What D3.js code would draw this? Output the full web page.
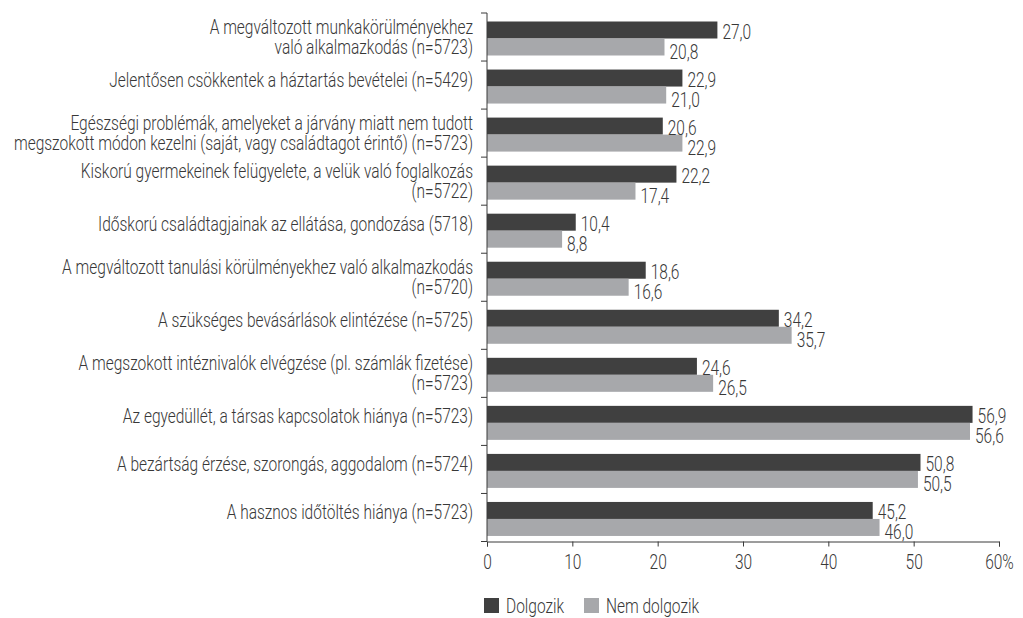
<!DOCTYPE html>
<html>
<head>
<meta charset="utf-8">
<script src="https://cdn.jsdelivr.net/npm/d3@7"></script>
<style>
  body { margin: 0; background: #fff; }
  text { font-family: Roboto, "Open Sans", sans-serif; font-weight: 300; fill: #383838; }
</style>
</head>
<body>
<div id="chart"></div>
<script>
// Category labels (each entry = lines of the label)
const categories = [
    ["A megváltozott munkakörülményekhez", "való alkalmazkodás (n=5723)"],
    ["Jelentősen csökkentek a háztartás bevételei (n=5429)"],
    ["Egészségi problémák, amelyeket a járvány  miatt nem tudott", "megszokott módon kezelni (saját, vagy családtagot érintő) (n=5723)"],
    ["Kiskorú gyermekeinek felügyelete, a velük való foglalkozás", "(n=5722)"],
    ["Időskorú családtagjainak az ellátása, gondozása (5718)"],
    ["A megváltozott tanulási körülményekhez való alkalmazkodás", "(n=5720)"],
    ["A szükséges bevásárlások elintézése (n=5725)"],
    ["A megszokott intéznivalók elvégzése (pl. számlák fizetése)", "(n=5723)"],
    ["Az egyedüllét, a társas kapcsolatok hiánya (n=5723)"],
    ["A bezártság érzése, szorongás, aggodalom (n=5724)"],
    ["A hasznos időtöltés hiánya (n=5723)"]
];

// Series
const seriesNames = ["Dolgozik", "Nem dolgozik"];
const dolgozik = [27.0, 22.9, 20.6, 22.2, 10.4, 18.6, 34.2, 24.6, 56.9, 50.8, 45.2];
const nemDolgozik = [20.8, 21.0, 22.9, 17.4, 8.8, 16.6, 35.7, 26.5, 56.6, 50.5, 46.0];

// X axis ticks
const xTicks = [0, 10, 20, 30, 40, 50, 60];

const colors = ["#404040", "#a7a8ab"];

const W = 1023, H = 618;
const fontSize = 21;

const svg = d3.select("#chart")
    .append("svg")
    .attr("width", W)
    .attr("height", H);

// Measure the font to squeeze it into the condensed look of the original
const probe = svg.append("text")
    .style("font-size", fontSize + "px")
    .text("Jelentősen csökkentek a háztartás bevételei (n=5429)");
const measured = probe.node().getComputedTextLength();
probe.remove();
const k = measured > 0 ? 364 / measured : 0.72;

// Scales
const x = d3.scaleLinear()
    .domain([0, 60])
    .range([487, 999]);

const rowKeys = categories.map((c, i) => i);
const y0 = d3.scaleBand()
    .domain(rowKeys)
    .range([13, 541.5]);

const y1 = d3.scaleBand()
    .domain(seriesNames)
    .range([8.5, 42.5]);

const rows = rowKeys.map(i => ({
    i,
    lines: categories[i],
    values: [
        { key: seriesNames[0], value: dolgozik[i] },
        { key: seriesNames[1], value: nemDolgozik[i] }
    ]
}));

// Bars
const groups = svg.selectAll("g.row")
    .data(rows)
    .enter()
    .append("g")
    .attr("class", "row")
    .attr("transform", d => `translate(0,${y0(d.i)})`);

groups.selectAll("rect")
    .data(d => d.values)
    .enter()
    .append("rect")
    .attr("x", x(0))
    .attr("y", d => y1(d.key))
    .attr("width", d => x(d.value) - x(0))
    .attr("height", y1.bandwidth())
    .attr("fill", (d, i) => colors[i]);

// Value labels (dark one sits on the bar bottom, light one a bit lower)
const fmt = v => v.toFixed(1).replace(".", ",");
groups.selectAll("text.val")
    .data(d => d.values)
    .enter()
    .append("text")
    .attr("class", "val")
    .style("font-size", fontSize + "px")
    .attr("transform", (d, i) => `translate(${x(d.value) + 5},${y1(d.key) + y1.bandwidth() + (i === 0 ? 0 : 3)}) scale(${k},1)`)
    .text(d => fmt(d.value));

// Category labels
groups.each(function(d) {
    const g = d3.select(this);
    const c = y0.bandwidth() / 2;
    const n = d.lines.length;
    const first = c + 2 - (n - 1) * 5.5;
    d.lines.forEach((line, j) => {
        g.append("text")
            .style("font-size", fontSize + "px")
            .attr("text-anchor", "end")
            .attr("transform", `translate(473,${first + j * 20}) scale(${k},1)`)
            .text(line);
    });
});

// Y axis line with ticks at category boundaries
svg.append("line")
    .attr("x1", x(0)).attr("x2", x(0))
    .attr("y1", y0.range()[0]).attr("y2", y0.range()[1])
    .attr("stroke", "#3a3a3a");

const boundaries = rowKeys.map(i => y0(i)).concat([y0.range()[1]]);
svg.selectAll("line.ytick")
    .data(boundaries)
    .enter()
    .append("line")
    .attr("class", "ytick")
    .attr("x1", x(0) - 6).attr("x2", x(0))
    .attr("y1", d => d).attr("y2", d => d)
    .attr("stroke", "#3a3a3a");

// X axis
const xAxis = svg.append("g")
    .attr("transform", `translate(0,${y0.range()[1]})`)
    .call(d3.axisBottom(x)
        .tickValues(xTicks)
        .tickSize(5)
        .tickPadding(8)
        .tickFormat(d => d === 60 ? "60%" : d));

xAxis.select(".domain").attr("stroke", "#3a3a3a");
xAxis.selectAll(".tick line").attr("stroke", "#3a3a3a");
xAxis.selectAll(".tick text")
    .attr("fill", "#383838")
    .style("font-size", fontSize + "px")
    .style("font-family", "Roboto, sans-serif")
    .attr("transform", `scale(${k},1)`);

// Legend
const legendX = [484, 584];
const legend = svg.selectAll("g.legend")
    .data(seriesNames)
    .enter()
    .append("g")
    .attr("class", "legend")
    .attr("transform", (d, i) => `translate(${legendX[i]},598)`);

legend.append("rect")
    .attr("width", 15)
    .attr("height", 15)
    .attr("fill", (d, i) => colors[i]);

legend.append("text")
    .style("font-size", fontSize + "px")
    .attr("transform", `translate(22,15) scale(${k},1)`)
    .text(d => d);
</script>
</body>
</html>
